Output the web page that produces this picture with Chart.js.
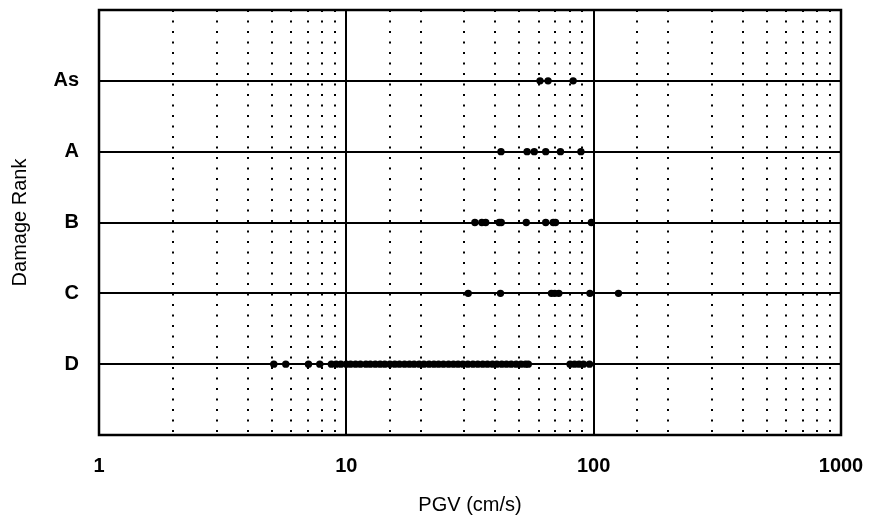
<!DOCTYPE html>
<html>
<head>
<meta charset="utf-8">
<script src="https://cdn.jsdelivr.net/npm/chart.js@4.4.0/dist/chart.umd.min.js"></script>
<style>
  html, body { margin: 0; padding: 0; background: #fff; }
  #wrap { width: 871px; height: 519px; }
</style>
</head>
<body>
<div id="wrap"><canvas id="chart"></canvas></div>
<script>
// damage ranks, bottom to top
const ranks = ["D", "C", "B", "A", "As"];
const xTickLabels = [1, 10, 100, 1000];
const majorGrid = [10, 100];

// PGV (cm/s) of each observed building, per rank
const pgvAs = [60.7, 65.4, 82.6];
const pgvA = [42.2, 53.8, 57.5, 64, 73.4, 88.8];
const pgvB = [33.1, 35.3, 36.6, 41.5, 42.3, 53.4, 64, 68.6, 70.1, 97.9];
const pgvC = [31.1, 42, 67.5, 69.6, 72.3, 96.6, 126];
const pgvD = [5.09, 5.69, 7.03, 7.81,
  8.7, 9.1, 9.5, 10.0, 10.4, 10.9, 11.4, 12.0, 12.5, 13.1, 13.7, 14.3,
  15.0, 15.7, 16.4, 17.2, 18.0, 18.8, 19.7, 20.6, 21.6, 22.6, 23.6, 24.7,
  25.9, 27.1, 28.3, 29.6, 31.0, 32.5, 34.0, 35.6, 37.2, 39.0, 40.6,
  42.5, 44.4, 46.4, 48.6, 50.8, 53.0, 54.4,
  80.3, 83.7, 87.3, 90.9, 96.2];

const series = [pgvD, pgvC, pgvB, pgvA, pgvAs];

const datasets = series.map((vals, i) => ({
  label: ranks[i],
  data: vals.map(v => ({ x: v, y: i + 1 })),
  backgroundColor: "#000",
  borderWidth: 0,
  pointRadius: 3.7,
  pointHoverRadius: 3.7,
}));

const framePlugin = {
  id: "frame",
  beforeDatasetsDraw(chart) {
    const { ctx, chartArea: a } = chart;
    ctx.save();
    ctx.strokeStyle = "#000";
    ctx.lineWidth = 2.5;
    ctx.strokeRect(a.left, a.top, a.right - a.left, a.bottom - a.top);
    ctx.restore();
  },
};

const font = "'Liberation Sans', Arial, sans-serif";

// keep the plot box where the reference has it
const noEdgePad = (s) => {
  s.paddingTop = 0; s.paddingBottom = 0;
  s.paddingLeft = 0; s.paddingRight = 0;
};

new Chart(document.getElementById("chart").getContext("2d"), {
  type: "scatter",
  data: { datasets },
  plugins: [framePlugin],
  options: {
    responsive: true,
    maintainAspectRatio: false,
    animation: false,
    layout: { padding: { top: 10, right: 30, left: 0, bottom: 0 } },
    plugins: { legend: { display: false }, tooltip: { enabled: false } },
    scales: {
      x: {
        type: "logarithmic",
        min: 1,
        max: 1000,
        afterFit: (s) => { s.height = 84; noEdgePad(s); },
        border: { display: false },
        grid: {
          drawTicks: false,
          lineWidth: 2,
          color: (c) => (c.tick && majorGrid.includes(c.tick.value) ? "#000" : "rgba(0,0,0,0)"),
        },
        ticks: {
          autoSkip: false,
          maxRotation: 0,
          padding: 19,
          color: "#000",
          font: { family: font, size: 20, weight: "bold" },
          callback: (v) => (xTickLabels.includes(v) ? String(v) : ""),
        },
        title: {
          display: true,
          text: "PGV (cm/s)",
          color: "#000",
          font: { family: font, size: 20 },
          padding: { top: 0, bottom: 2 },
        },
      },
      x2: {
        type: "logarithmic",
        position: "bottom",
        min: 1,
        max: 1000,
        afterFit: (s) => { s.height = 0; noEdgePad(s); },
        border: { display: false, dash: [2, 8.5] },
        grid: {
          drawTicks: false,
          lineWidth: 2,
          color: (c) => {
            const v = c.tick && c.tick.value;
            return v && !xTickLabels.includes(v) ? "#000" : "rgba(0,0,0,0)";
          },
        },
        ticks: { display: false, autoSkip: false },
      },
      y: {
        type: "linear",
        min: 0,
        max: 6,
        afterFit: (s) => { s.width = 99; noEdgePad(s); },
        border: { display: false },
        grid: {
          drawTicks: false,
          lineWidth: 2,
          color: (c) => (c.tick && c.tick.value >= 1 && c.tick.value <= 5 ? "#000" : "rgba(0,0,0,0)"),
        },
        ticks: {
          stepSize: 1,
          padding: 20,
          color: "#000",
          font: { family: font, size: 20, weight: "bold" },
          callback: (v) => ranks[v - 1] || "",
        },
        title: {
          display: true,
          text: "Damage Rank",
          color: "#000",
          font: { family: font, size: 20 },
          padding: { top: 8, bottom: 0 },
        },
      },
    },
  },
});
</script>
</body>
</html>
